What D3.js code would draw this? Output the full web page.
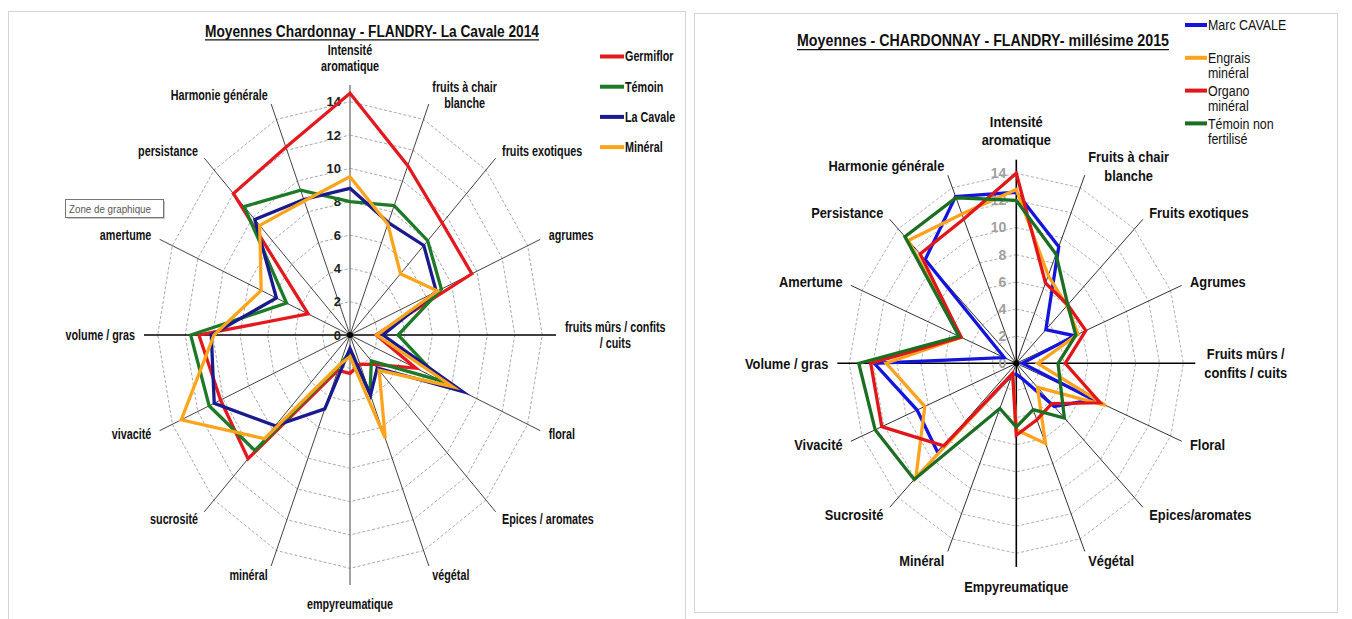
<!DOCTYPE html>
<meta charset="utf-8">
<script src="https://d3js.org/d3.v7.min.js"></script>
<style>
  body { margin: 0; background: #fff; }
  text { font-family: "Liberation Sans", Arial, sans-serif; }
</style>
<div id="chart"></div>
<script>

// ---- 2014 chart data ----
var cats2014 = ["Intensité\naromatique", "fruits à chair\nblanche", "fruits exotiques", "agrumes",
  "fruits mûrs / confits\n/ cuits", "floral", "Epices / aromates", "végétal", "empyreumatique",
  "minéral", "sucrosité", "vivacité", "volume / gras", "amertume", "persistance", "Harmonie générale"];
var names2014 = ["Germiflor", "Témoin", "La Cavale", "Minéral"];
var germiflor  = [14.5, 11.0, 9.5, 9.6, 1.9, 5.2, 2.5, 1.9, 2.3, 2.3, 10.5, 10.2, 11.0, 3.3, 12.0, 12.2];
var temoin2014 = [8.0, 8.4, 8.0, 7.2, 3.5, 7.2, 2.2, 3.8, 1.0, 2.0, 9.8, 11.1, 11.6, 5.0, 10.9, 9.4];
var laCavale   = [8.8, 7.3, 7.6, 6.8, 2.4, 8.85, 2.8, 3.9, 0.8, 4.8, 7.7, 10.7, 10.1, 5.8, 9.8, 8.8];
var mineral2014 = [9.5, 7.2, 5.2, 6.9, 1.95, 8.1, 3.0, 6.7, 1.3, 1.9, 8.8, 13.3, 9.9, 7.0, 9.3, 8.7];

// ---- 2015 chart data ----
var cats2015 = ["Intensité\naromatique", "Fruits à chair\nblanche", "Fruits exotiques", "Agrumes",
  "Fruits mûrs /\nconfits / cuits", "Floral", "Epices/aromates", "Végétal", "Empyreumatique",
  "Minéral", "Sucrosité", "Vivacité", "Volume / gras", "Amertume", "Persistance", "Harmonie générale"];
var names2015 = ["Marc CAVALE", "Engrais\nminéral", "Organo\nminéral", "Témoin non\nfertilisé"];
var marcCavale     = [12.6, 9.3, 3.5, 5.3, 0.5, 7.0, 4.5, 1.2, 0.8, 0.9, 9.3, 9.0, 11.9, 1.1, 10.8, 13.3];
var engraisMineral = [12.8, 7.0, 6.0, 5.6, 1.8, 8.1, 2.5, 6.4, 4.9, 0.8, 11.9, 8.3, 10.9, 5.0, 12.8, 11.9];
var organoMineral  = [14.0, 6.4, 6.1, 6.3, 4.1, 7.6, 4.2, 4.5, 5.3, 0.8, 8.6, 12.2, 12.2, 5.0, 11.4, 11.5];
var temoinNonFert  = [12.0, 8.7, 6.1, 5.4, 3.5, 4.0, 5.7, 3.7, 4.7, 3.6, 12.1, 12.8, 13.2, 5.2, 13.2, 13.2];

var ticks = [0, 2, 4, 6, 8, 10, 12, 14];

var svg = d3.select("#chart").append("svg")
  .attr("width", 1352).attr("height", 619);

// chart frames
svg.append("rect").attr("x", 8.5).attr("y", 11.5).attr("width", 677).attr("height", 640)
  .attr("fill", "none").attr("stroke", "#d4d4d4");
svg.append("rect").attr("x", 694.5).attr("y", 13.5).attr("width", 643).attr("height", 599)
  .attr("fill", "none").attr("stroke", "#d4d4d4");

function drawRadar(o) {
  var g = svg.append("g");
  var n = o.categories.length;
  var rx = d3.scaleLinear().domain([0, o.max]).range([0, o.rx]);
  var ry = d3.scaleLinear().domain([0, o.max]).range([0, o.ry]);
  var angle = d3.scaleLinear().domain([0, n]).range([0, 2 * Math.PI]);
  function pt(i, v) {
    var a = angle(i);
    return [o.cx + rx(v) * Math.sin(a), o.cy - ry(v) * Math.cos(a)];
  }
  var closed = d3.line().curve(d3.curveLinearClosed);

  // dashed polygon gridlines
  g.selectAll(".grid").data(ticks.filter(function(t) { return t > 0; })).join("path")
    .attr("class", "grid")
    .attr("d", function(t) { return closed(d3.range(n).map(function(i) { return pt(i, t); })); })
    .attr("fill", "none").attr("stroke", o.gridColor).attr("stroke-width", 1)
    .attr("stroke-dasharray", "3,2");

  // spokes
  g.selectAll(".spoke").data(d3.range(n)).join("line")
    .attr("class", "spoke")
    .attr("x1", o.cx).attr("y1", o.cy)
    .attr("x2", function(i) { return pt(i, o.max)[0]; })
    .attr("y2", function(i) { return pt(i, o.max)[1]; })
    .attr("stroke", function(i) {
      if (i % (n / 2) === 0) return o.vAxisColor;
      if (i % (n / 4) === 0) return "#000";
      return o.spokeColor;
    })
    .attr("stroke-width", function(i) { return i % (n / 4) === 0 ? 1.6 : 1; });

  // value labels on the vertical axis
  g.selectAll(".tick").data(ticks).join("text")
    .attr("class", "tick")
    .attr("x", o.cx - o.tickGap)
    .attr("y", function(t) { return pt(0, t)[1]; })
    .attr("dy", "0.35em")
    .attr("text-anchor", "end")
    .style("font-size", o.tickSize + "px").style("font-weight", "bold")
    .attr("fill", o.tickColor)
    .text(function(t) { return t; });

  g.append("circle").attr("cx", o.cx).attr("cy", o.cy).attr("r", 3).attr("fill", "#000");

  // series
  g.selectAll(".series").data(o.series).join("path")
    .attr("class", "series")
    .attr("d", function(s) { return closed(s.values.map(function(v, i) { return pt(i, v); })); })
    .attr("fill", "none")
    .attr("stroke", function(s) { return s.color; })
    .attr("stroke-width", 3.3)
    .attr("stroke-linejoin", "miter").attr("stroke-miterlimit", 6);

  // category labels
  o.categories.forEach(function(cat, i) {
    var a = angle(i), s = Math.sin(a), c = Math.cos(a);
    var end = pt(i, o.max);
    var lines = cat.split("\n");
    var lg = g.append("g");
    var t = lg.selectAll("text").data(lines).join("text")
      .attr("text-anchor", "middle")
      .attr("dy", "0.35em")
      .attr("y", function(d, k) { return (k - (lines.length - 1) / 2) * o.lineH; })
      .style("font-size", o.labelSize + "px").style("font-weight", "bold")
      .attr("fill", "#111")
      .text(function(d) { return d; });
    var W = d3.max(t.nodes(), function(nd) { return nd.getComputedTextLength(); });
    var px, py, shift = 0;
    if (Math.abs(s) < 0.01) {
      px = end[0];
      py = end[1] + (c > 0 ? -1 : 1) * (o.labelGap + (lines.length - 1) / 2 * o.lineH);
    } else {
      px = end[0] + 9 * s;
      py = end[1] - 10 * c;
      shift = s > 0 ? W / 2 : -W / 2;
    }
    t.attr("x", shift);
    lg.attr("transform", "translate(" + px + "," + py + ") scale(" + o.squeeze + ",1)");
  });

  // title
  g.append("text")
    .attr("x", o.title.x).attr("y", o.title.y).attr("dy", "0.35em")
    .attr("text-anchor", "middle")
    .attr("textLength", o.title.w).attr("lengthAdjust", "spacingAndGlyphs")
    .style("font-size", o.title.size + "px").style("font-weight", "bold")
    .attr("fill", "#111")
    .text(o.title.text);
  g.append("line")
    .attr("x1", o.title.x - o.title.w / 2).attr("x2", o.title.x + o.title.w / 2)
    .attr("y1", o.title.y + o.title.size * 0.55).attr("y2", o.title.y + o.title.size * 0.55)
    .attr("stroke", "#111").attr("stroke-width", 1.2);

  // legend
  var lgd = g.selectAll(".legend").data(o.series).join("g")
    .attr("class", "legend")
    .attr("transform", function(s, k) { return "translate(" + o.legend.x + "," + (o.legend.y + k * o.legend.step) + ")"; });
  lgd.append("line").attr("x1", 0).attr("x2", o.legend.len)
    .attr("stroke", function(s) { return s.color; }).attr("stroke-width", 4);
  lgd.each(function(s) {
    var lines = s.name.split("\n");
    d3.select(this).append("g")
      .attr("transform", "translate(" + (o.legend.len + 1) + ",0) scale(" + o.squeeze + ",1)")
      .selectAll("text").data(lines).join("text")
      .attr("y", function(d, k) { return k * o.legend.lineH; })
      .attr("dy", "0.35em")
      .style("font-size", o.legend.size + "px").style("font-weight", o.legend.weight)
      .attr("fill", "#111")
      .text(function(d) { return d; });
  });
}

drawRadar({
  cx: 350, cy: 335, rx: 206, ry: 250, max: 15,
  categories: cats2014,
  series: [
    { name: names2014[0], values: germiflor, color: "#e3191f" },
    { name: names2014[1], values: temoin2014, color: "#1d7a26" },
    { name: names2014[2], values: laCavale, color: "#1a1a8e" },
    { name: names2014[3], values: mineral2014, color: "#fca51c" }
  ],
  gridColor: "#a8a8a8", spokeColor: "#444", vAxisColor: "#8a8a8a",
  tickGap: 9, tickSize: 13, tickColor: "#222",
  labelSize: 14, lineH: 16, labelGap: 19, squeeze: 0.77,
  title: { text: "Moyennes Chardonnay - FLANDRY- La Cavale 2014", x: 372, y: 31, w: 334, size: 16 },
  legend: { x: 600, y: 56.5, step: 30.2, len: 24, size: 14, weight: "bold", lineH: 15 }
});

drawRadar({
  cx: 1016.3, cy: 363.3, rx: 179, ry: 203.6, max: 15,
  categories: cats2015,
  series: [
    { name: names2015[0], values: marcCavale, color: "#1414dc" },
    { name: names2015[1], values: engraisMineral, color: "#ffa31f" },
    { name: names2015[2], values: organoMineral, color: "#e0161a" },
    { name: names2015[3], values: temoinNonFert, color: "#1b6e22" }
  ],
  gridColor: "#b0b0b0", spokeColor: "#333", vAxisColor: "#000",
  tickGap: 10, tickSize: 14, tickColor: "#a0a0a0",
  labelSize: 15.5, lineH: 18.6, labelGap: 20, squeeze: 0.83,
  title: { text: "Moyennes - CHARDONNAY - FLANDRY- millésime 2015", x: 983, y: 40.5, w: 372, size: 16.5 },
  legend: { x: 1185, y: 25, step: 32.8, len: 22, size: 15, weight: "normal", lineH: 15.4 }
});

// Excel "Zone de graphique" tooltip
var tip = svg.append("g").attr("transform", "translate(65,199)");
tip.append("rect").attr("x", 2).attr("y", 2).attr("width", 98).attr("height", 18).attr("fill", "#c8c8c8");
tip.append("rect").attr("x", 0.5).attr("y", 0.5).attr("width", 98).attr("height", 18)
  .attr("fill", "#fff").attr("stroke", "#767676");
tip.append("text").attr("transform", "translate(4,10) scale(0.85,1)").attr("dy", "0.35em")
  .style("font-size", "11.5px").attr("fill", "#575757").text("Zone de graphique");

</script>
